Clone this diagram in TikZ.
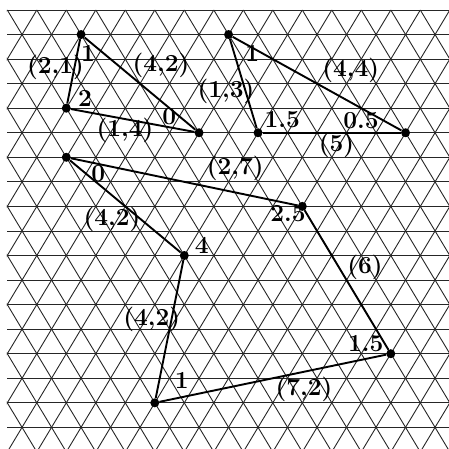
\documentclass[tikz,border=0pt]{standalone}
\tikzset{
  gridline/.style={line width=0.9pt, black!85},
  edge/.style={line width=1.9pt, black},
  dot/.style={circle, fill=black, inner sep=0pt, minimum size=9pt},
  lab/.style={inner sep=0pt, font=\fontsize{24.5}{29}\selectfont\bfseries}
}
\begin{document}
\begin{tikzpicture}[x=1pt,y=-1pt]
\useasboundingbox (0,0) rectangle (449,449);
% triangular grid
\begin{scope}
\clip (6.9,9.6) rectangle (449,449);
\foreach \j in {0,...,17} {
  \draw[gridline] (7.3,{10+24.55*\j}) -- (460,{10+24.55*\j});
}
\foreach \c in {-18,-16,...,30} {
  \draw[gridline] ({7.3+14.75*\c},10) -- ({7.3+14.75*(\c+18)},{10+24.55*18});
}
\foreach \s in {0,2,...,48} {
  \draw[gridline] ({7.3+14.75*\s},10) -- ({7.3+14.75*(\s-18)},{10+24.55*18});
}
\end{scope}
% vertices
\node[dot] (A) at (81.05,34.55) {};
\node[dot] (B) at (66.3,108.2) {};
\node[dot] (C) at (199.05,132.75) {};
\node[dot] (D) at (66.3,157.3) {};
\node[dot] (E) at (228.55,34.55) {};
\node[dot] (F) at (258.05,132.75) {};
\node[dot] (G) at (405.55,132.75) {};
\node[dot] (H) at (302.3,206.4) {};
\node[dot] (I) at (184.3,255.5) {};
\node[dot] (J) at (154.8,402.8) {};
\node[dot] (K) at (390.8,353.7) {};
% edges
\draw[edge] (A) -- (B);
\draw[edge] (A) -- (C);
\draw[edge] (B) -- (C);
\draw[edge] (E) -- (F);
\draw[edge] (E) -- (G);
\draw[edge] (F) -- (G);
\draw[edge] (D) -- (H);
\draw[edge] (D) -- (I);
\draw[edge] (H) -- (K);
\draw[edge] (I) -- (J);
\draw[edge] (J) -- (K);
% edge labels
\node[lab] (lAB) at (55.5,67) {(2,1)};
\node[lab] (lAC) at (161,65) {(4,2)};
\node[lab] (lBC) at (125,130) {(1,4)};
\node[lab] (lEF) at (226,91) {(1,3)};
\node[lab] (lEG) at (350.7,70) {(4,4)};
\node[lab] (lFG) at (336.5,145) {(5)};
\node[lab] (lDH) at (235.3,168.8) {(2,7)};
\node[lab] (lDI) at (112,219) {(4,2)};
\node[lab] (lHK) at (365,267) {(6)};
\node[lab] (lIJ) at (151.7,319) {(4,2)};
\node[lab] (lJK) at (304,389) {(7,2)};
% vertex labels
\node[lab] (vA) at (88,53) {1};
\node[lab] (vB) at (85,98.3) {2};
\node[lab] (vC) at (169.3,116.7) {0};
\node[lab] (vE) at (252.3,53.3) {1};
\node[lab] (vF) at (282.3,120) {1.5};
\node[lab] (vG) at (361,121) {0.5};
\node[lab] (vD) at (98.3,173.3) {0};
\node[lab] (vH) at (288,214) {2.5};
\node[lab] (vI) at (201.7,245) {4};
\node[lab] (vJ) at (181.7,380.7) {1};
\node[lab] (vK) at (365.7,344) {1.5};
\end{tikzpicture}
\end{document}
